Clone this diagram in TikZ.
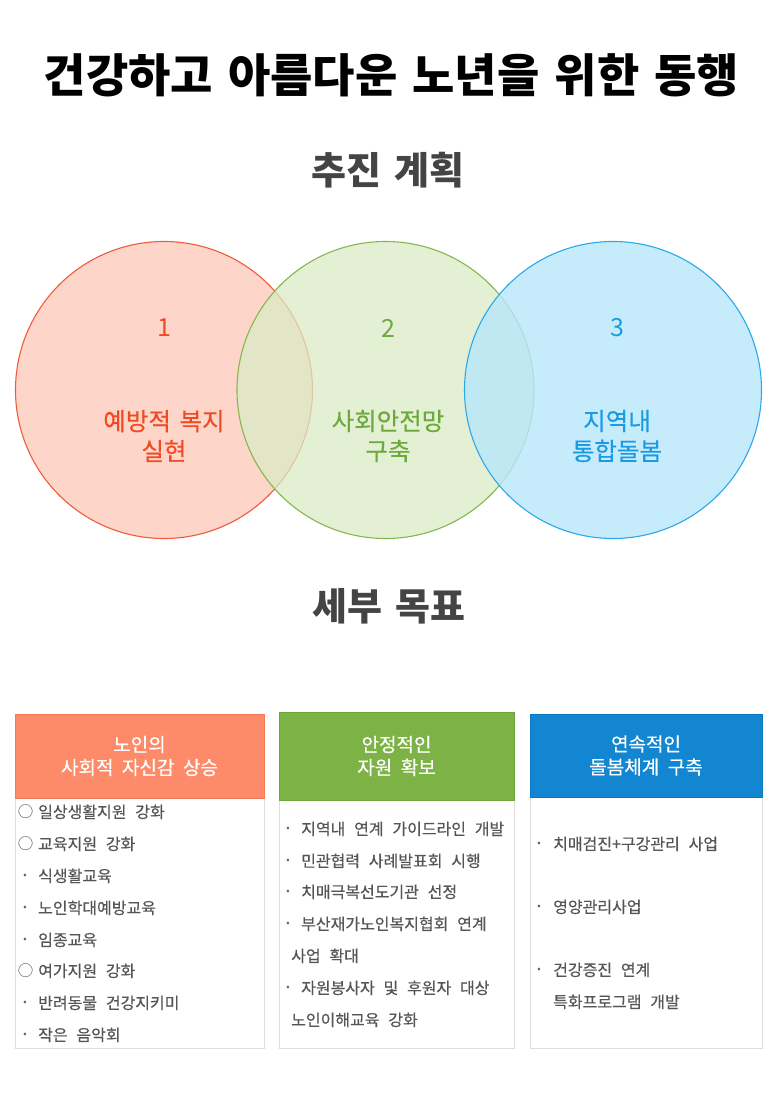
\documentclass[tikz,border=0pt]{standalone}
\usepackage{fontspec}
\setmainfont{Noto Sans CJK KR}
\newfontfamily\krm{Noto Sans CJK KR}[FakeBold=0.35]
\definecolor{redS}{HTML}{F15A3A}
\definecolor{redF}{HTML}{FDD6C9}
\definecolor{redT}{HTML}{F04A24}
\definecolor{grnS}{HTML}{86B74E}
\definecolor{grnF}{RGB}{218,235,198}
\definecolor{grnT}{HTML}{6FA83C}
\definecolor{bluS}{HTML}{2BA8EA}
\definecolor{bluF}{RGB}{184,231,251}
\definecolor{bluT}{HTML}{1B9BE3}
\definecolor{hdA}{HTML}{FD8A68}
\definecolor{hdAb}{HTML}{F57A58}
\definecolor{hdB}{HTML}{7DB346}
\definecolor{hdBb}{HTML}{6FA63A}
\definecolor{hdC}{HTML}{1286D0}
\definecolor{hdCb}{HTML}{0B79C2}
\definecolor{txtG}{HTML}{555555}
\definecolor{ttlG}{HTML}{444444}
\definecolor{bodyB}{HTML}{DDDDDD}
\newcommand\wsA{\spaceskip=0.33em\relax}
\newcommand\wsB{\spaceskip=0.35em\relax}
\newcommand\wsC{\spaceskip=0.45em\relax}
\newcommand\wsD{\spaceskip=0.55em\relax}
\newcommand\wsE{\spaceskip=0.35em\relax}
\begin{document}
\begin{tikzpicture}[x=1pt,y=-1pt,
  venn/.style={circle, minimum size=297pt, inner sep=0, line width=1.1pt},
  num/.style={inner sep=0, font=\fontsize{25}{25}\selectfont},
  vlab/.style={inner sep=0, align=center, font=\krm\fontsize{24.5}{30}\selectfont},
  hdrbox/.style={inner sep=0, text=white, align=center, line width=0.8pt, font=\krm\fontsize{19}{23}\selectfont},
  bodybox/.style={inner sep=0, fill=white, draw=bodyB, line width=1pt},
  itm/.style={anchor=base west, yshift=-5.9pt, inner sep=0, text=txtG, font=\krm\fontsize{16}{16}\selectfont},
  dotb/.style={anchor=base, yshift=-5.9pt, inner sep=0, text=txtG, font=\krm\fontsize{19}{19}\selectfont},
  ring/.style={anchor=base, yshift=-5.9pt, inner sep=0, text=txtG, font=\fontsize{15.5}{15.5}\selectfont},
  head/.style={inner sep=0, text=ttlG, font=\fontsize{38}{38}\selectfont\bfseries}
]
\useasboundingbox (0,0) rectangle (777,1099);
% title
\node[inner sep=0, font=\fontsize{46}{46}\selectfont\bfseries] (title) at (391.5,75) {\wsA 건강하고 아름다운 노년을 위한 동행};
\node[head] (plan) at (388,170) {\wsB 추진 계획};
% venn
\node[venn, draw=redS, fill=redF] (c1) at (164,390) {};
\node[venn, draw=grnS, fill=grnF, fill opacity=0.75] (c2) at (385.5,390) {};
\node[venn, draw=bluS, fill=bluF, fill opacity=0.8] (c3) at (613,390) {};
\node[num, text=redT] (n1) at (164,328) {1};
\node[num, text=grnT] (n2) at (388,328) {2};
\node[num, text=bluT] (n3) at (617,328) {3};
\node[vlab, text=redT] (l1) at (164,436) {\wsE 예방적 복지\\실현};
\node[vlab, text=grnT] (l2) at (388,436) {사회안전망\\구축};
\node[vlab, text=bluT] (l3) at (617,436) {지역내\\통합돌봄};
\node[head] (goal) at (389,606) {\wsB 세부 목표};
% boxes
\node[bodybox, minimum width=249pt, minimum height=334pt] (b1) at (139.5,881) {};
\node[bodybox, minimum width=235pt, minimum height=336pt] (b2) at (396.5,880) {};
\node[bodybox, minimum width=232pt, minimum height=334pt] (b3) at (646,881) {};
\node[hdrbox, fill=hdA, draw=hdAb, minimum width=249pt, minimum height=84pt] (h1) at (139.5,756) {노인의\\\wsC 사회적 자신감 상승};
\node[hdrbox, fill=hdB, draw=hdBb, minimum width=235pt, minimum height=88pt] (h2) at (396.5,756) {안정적인\\\wsC 자원 확보};
\node[hdrbox, fill=hdC, draw=hdCb, minimum width=232pt, minimum height=83pt] (h3) at (646,755.5) {연속적인\\\wsC 돌봄체계 구축};
% box 1 items
\node[ring] (r11) at (25.5,812) {○};
\node[itm] (t11) at (38,812) {\wsD 일상생활지원 강화};
\node[ring] (r12) at (25.5,844) {○};
\node[itm] (t12) at (38,844) {\wsD 교육지원 강화};
\node[dotb] (d13) at (25,876) {·};
\node[itm] (t13) at (38,876) {식생활교육};
\node[dotb] (d14) at (25,908) {·};
\node[itm] (t14) at (38,908) {노인학대예방교육};
\node[dotb] (d15) at (25,940) {·};
\node[itm] (t15) at (38,940) {임종교육};
\node[ring] (r16) at (25.5,971) {○};
\node[itm] (t16) at (38,971) {\wsD 여가지원 강화};
\node[dotb] (d17) at (25,1003) {·};
\node[itm] (t17) at (38,1003) {\wsD 반려동물 건강지키미};
\node[dotb] (d18) at (25,1035) {·};
\node[itm] (t18) at (38,1035) {\wsD 작은 음악회};
% box 2 items
\node[dotb] (d21) at (288,829) {·};
\node[itm] (t21) at (301,829) {\wsD 지역내 연계 가이드라인 개발};
\node[dotb] (d22) at (288,861) {·};
\node[itm] (t22) at (301,861) {\wsD 민관협력 사례발표회 시행};
\node[dotb] (d23) at (288,892) {·};
\node[itm] (t23) at (301,892) {\wsD 치매극복선도기관 선정};
\node[dotb] (d24) at (288,924) {·};
\node[itm] (t24) at (301,924) {\wsD 부산재가노인복지협회 연계};
\node[itm] (t25) at (291,956) {\wsD 사업 확대};
\node[dotb] (d26) at (288,988) {·};
\node[itm] (t26) at (301,988) {\wsD 자원봉사자 및 후원자 대상};
\node[itm] (t27) at (291,1020) {\wsD 노인이해교육 강화};
% box 3 items
\node[dotb] (d31) at (539,844) {·};
\node[itm] (t31) at (553,844) {\wsD 치매검진+구강관리 사업};
\node[dotb] (d32) at (539,907) {·};
\node[itm] (t32) at (553,907) {영양관리사업};
\node[dotb] (d33) at (539,970) {·};
\node[itm] (t33) at (553,970) {\wsD 건강증진 연계};
\node[itm] (t34) at (553,1002) {\wsD 특화프로그램 개발};
\end{tikzpicture}
\end{document}
